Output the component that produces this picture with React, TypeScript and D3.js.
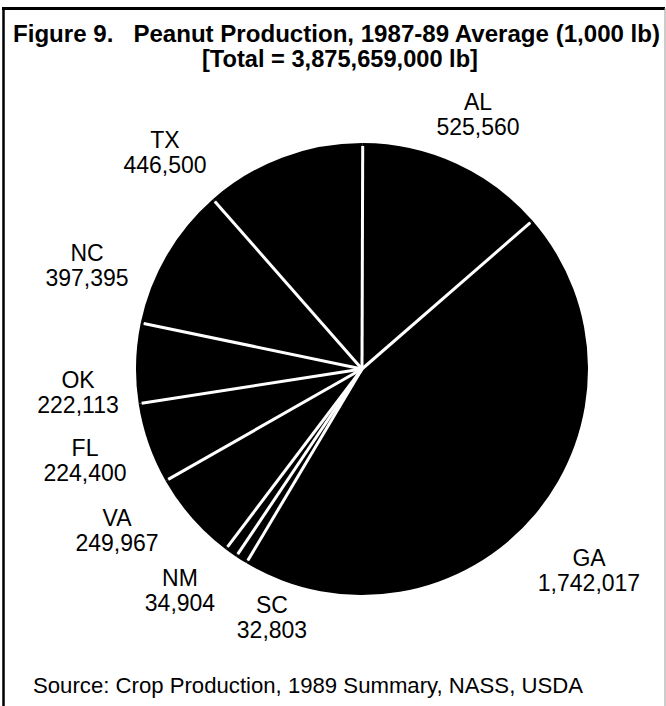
import React from 'react';
import * as d3 from 'd3';

// states, clockwise from the upper right
const states = ['GA', 'SC', 'NM', 'VA', 'FL', 'OK', 'NC', 'TX', 'AL'];
const production = [1742017, 32803, 34904, 249967, 224400, 222113, 397395, 446500, 525560];

// where each label sits (layout only)
const labelX = [589, 272, 180, 117, 85, 78, 87, 165, 478];
const labelY = [566, 613, 586, 526, 456, 388, 261, 148, 110];

const W = 666;
const H = 706;
const cx = 362;
const cy = 369;
const radius = 226;
const font = '"Liberation Sans", Arial, Helvetica, sans-serif';
const fmt = d3.format(',');

export default function App() {
  const pie = d3
    .pie<number>()
    .sort(null)
    .value((d) => d)
    .startAngle((49 * Math.PI) / 180)
    .endAngle((49 * Math.PI) / 180 + 2 * Math.PI);
  const arcs = pie(production);
  const arc = d3.arc<d3.PieArcDatum<number>>().innerRadius(0).outerRadius(radius);

  return (
    <div style={{ position: 'absolute', left: 0, top: 0 }}>
      <svg width={W} height={H} style={{ display: 'block', background: '#fff' }}>
        {/* frame */}
        <line x1={3.5} y1={8} x2={3.5} y2={H} stroke="#000" strokeWidth={2.5} />
        <line x1={2} y1={8.5} x2={665} y2={8.5} stroke="#000" strokeWidth={3} />
        <line x1={665} y1={8} x2={665} y2={H} stroke="#999" strokeWidth={1} />

        <text x={13} y={42} fontFamily={font} fontWeight="bold" fontSize={23.5}
          textLength={647} lengthAdjust="spacingAndGlyphs" style={{ whiteSpace: 'pre' }}>
          {'Figure 9.   Peanut Production, 1987-89 Average (1,000 lb)'}
        </text>
        <text x={340} y={67} fontFamily={font} fontWeight="bold" fontSize={23.5} textAnchor="middle"
          textLength={276} lengthAdjust="spacingAndGlyphs">
          [Total = 3,875,659,000 lb]
        </text>

        <g transform={`translate(${cx},${cy})`}>
          {arcs.map((a, i) => (
            <path key={states[i]} d={arc(a) || ''} fill="#000" />
          ))}
          {arcs.map((a, i) => (
            <line
              key={'sep' + i}
              x1={0}
              y1={0}
              x2={Math.sin(a.startAngle) * (radius - 3)}
              y2={-Math.cos(a.startAngle) * (radius - 3)}
              stroke="#fff"
              strokeWidth={3}
            />
          ))}
        </g>

        {states.map((s, i) => (
          <g key={'lbl' + s} fontFamily={font} fontSize={23} textAnchor="middle" fill="#000">
            <text x={labelX[i]} y={labelY[i]}>{s}</text>
            <text x={labelX[i]} y={labelY[i] + 25}>{fmt(production[i])}</text>
          </g>
        ))}

        <text x={33} y={693} fontFamily={font} fontSize={22}
          textLength={550} lengthAdjust="spacingAndGlyphs">
          Source: Crop Production, 1989 Summary, NASS, USDA
        </text>
      </svg>
    </div>
  );
}
